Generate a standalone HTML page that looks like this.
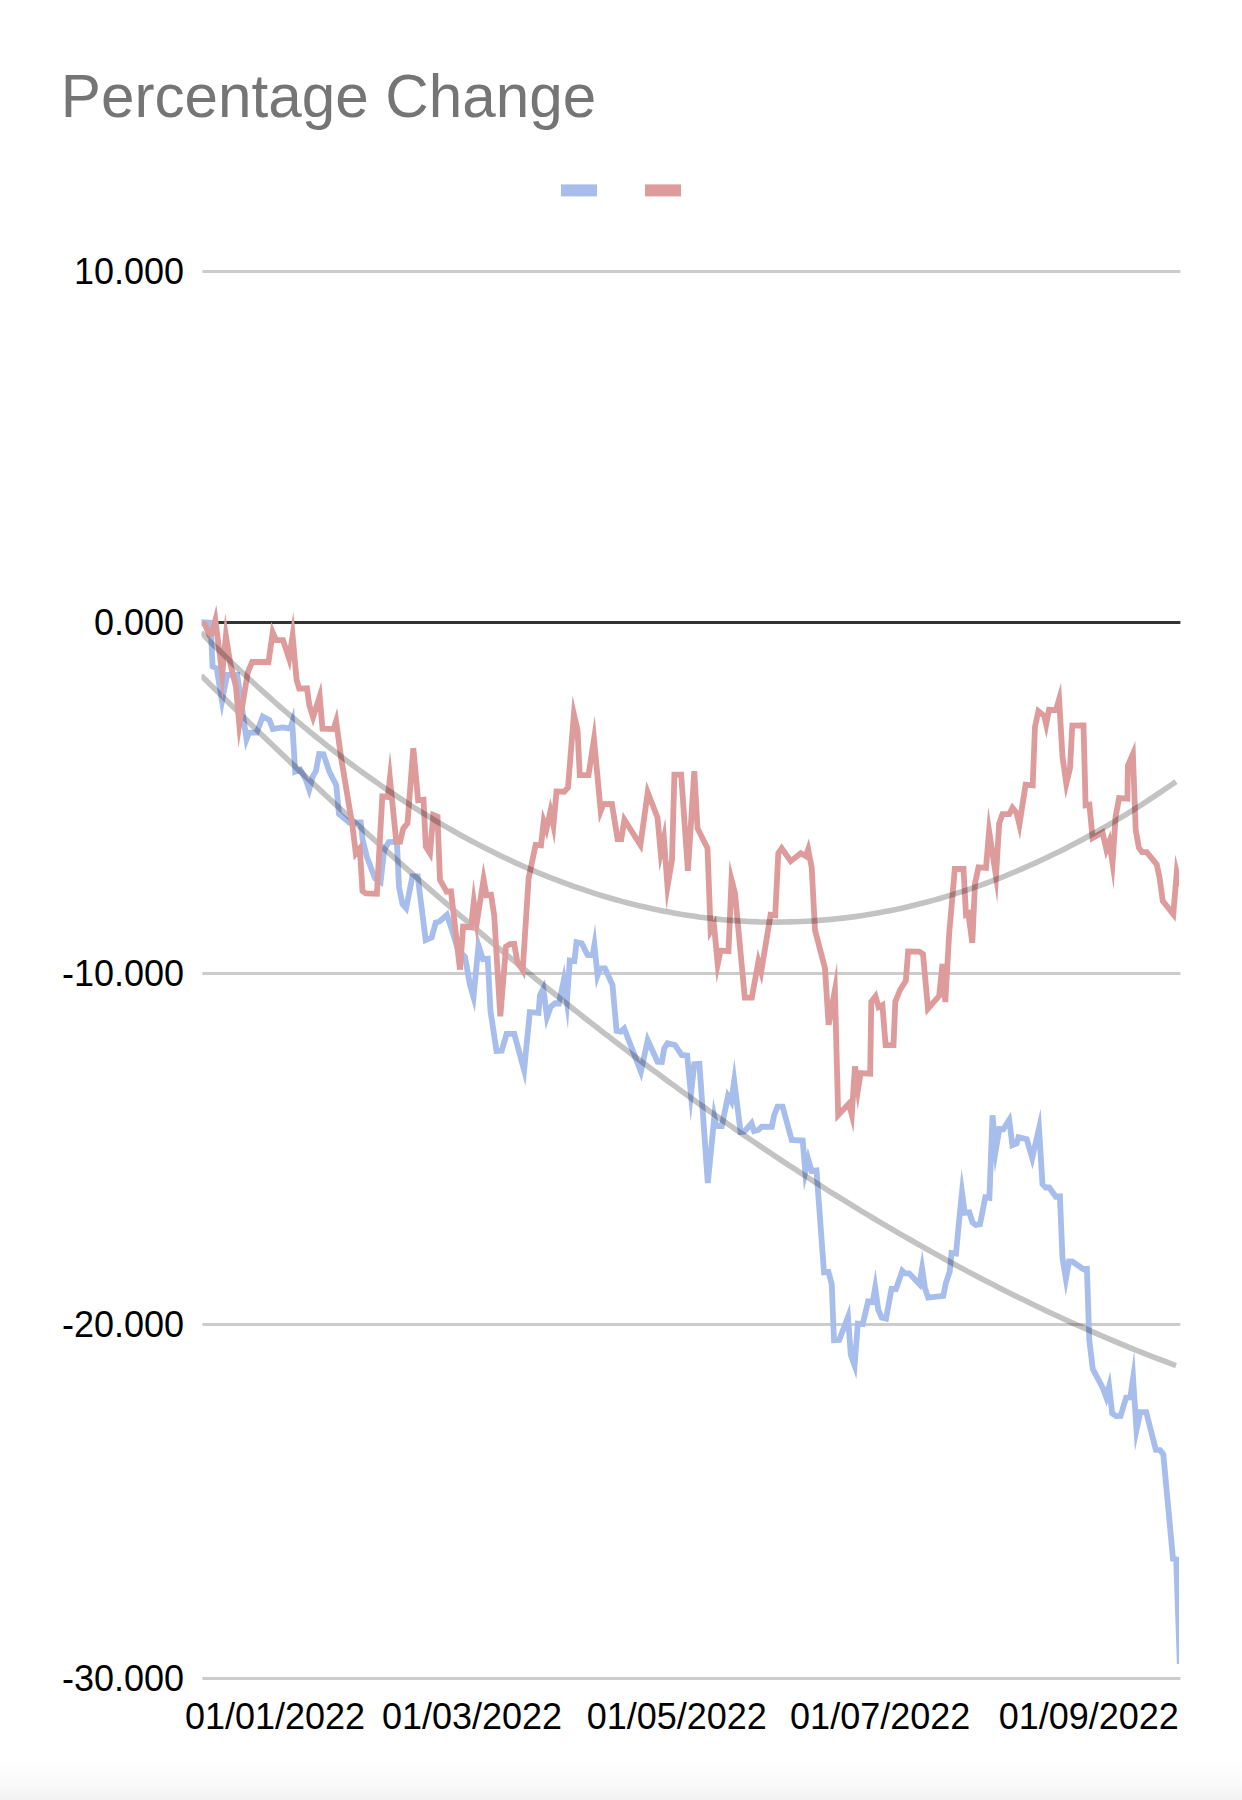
<!DOCTYPE html>
<html lang="en"><head><meta charset="utf-8"><title>Percentage Change</title>
<style>
html,body{margin:0;padding:0;background:#fff;}
body{width:1242px;height:1800px;overflow:hidden;position:relative;font-family:"Liberation Sans",sans-serif;}
.fade{position:absolute;left:0;top:1758px;width:1242px;height:42px;background:linear-gradient(to bottom,#ffffff 0px,#fdfdfd 12px,#fbfbfb 22px,#f9f9f9 29px,#f6f6f6 34px,#f2f2f2 42px);}
svg{position:absolute;left:0;top:0;display:block;}
svg text{font-family:"Liberation Sans",sans-serif;}
</style></head>
<body>
<div class="fade"></div>
<svg width="1242" height="1800" viewBox="0 0 1242 1800">
<defs><clipPath id="plot"><rect x="201.5" y="268" width="977.5" height="1412"/></clipPath></defs>
<text x="60.8" y="116.8" font-size="60.2" fill="#757575">Percentage Change</text>
<rect x="561" y="184.4" width="36" height="12" fill="#a7bdec"/>
<rect x="645" y="184.4" width="36" height="12" fill="#dd9c9b"/>
<rect x="202.4" y="270" width="978" height="3" fill="#cccccc"/>
<rect x="202.4" y="972" width="978" height="3" fill="#cccccc"/>
<rect x="202.4" y="1323" width="978" height="3" fill="#cccccc"/>
<rect x="202.4" y="1677" width="978" height="3" fill="#cccccc"/>
<rect x="202.4" y="621" width="978" height="3" fill="#333333"/>

<g clip-path="url(#plot)" fill="none" stroke-linejoin="miter" stroke-miterlimit="10" stroke-linecap="butt">
<path stroke="#a7bdec" stroke-width="5.8" d="M200.0,622.0L210.5,622.7L212.6,666.5L216.7,668.5L222.0,701.1L227.1,674.9L237.2,675.0L246.5,739.3L249.0,732.7L256.7,732.7L262.7,716.5L269.4,720.0L272.8,729.1L282.7,727.5L290.3,728.5L292.2,722.5L295.2,771.7L300.3,769.7L306.0,780.0L309.2,789.5L312.7,776.7L316.0,770.8L319.1,754.0L323.5,754.2L329.3,771.7L336.2,785.0L339.0,814.0L349.3,822.7L360.7,822.5L362.7,840.0L366.8,856.7L375.0,878.3L380.6,882.0L384.2,850.0L388.8,842.0L396.9,841.7L399.0,887.0L402.5,904.2L406.1,908.2L412.4,876.5L417.7,876.5L425.7,940.1L431.7,937.5L435.8,922.5L439.2,921.7L446.9,914.8L452.5,931.7L458.0,950.0L465.0,957.0L470.0,985.0L473.5,997.0L478.5,945.6L482.9,959.1L487.7,958.7L490.5,1011.0L496.5,1051.0L501.7,1050.8L506.6,1033.9L514.3,1033.9L524.1,1070.0L529.8,1012.2L538.5,1012.8L540.0,995.0L543.3,988.6L547.0,1017.2L550.8,1006.7L555.0,1003.3L558.9,1003.5L563.8,980.1L566.9,1001.7L569.8,960.5L574.4,961.1L576.5,942.2L581.7,943.3L587.5,955.0L592.7,955.2L594.4,945.1L597.5,975.5L600.0,968.3L605.0,968.3L612.5,985.0L616.6,1030.9L620.8,1031.7L624.2,1028.5L640.9,1071.6L647.7,1040.2L657.5,1061.7L661.9,1061.9L664.2,1048.3L667.5,1043.3L675.0,1045.0L681.7,1055.0L687.2,1055.7L690.9,1094.1L694.3,1064.3L699.4,1063.9L707.8,1183.0M707.8,1183.0L714.3,1117.0L716.2,1126.0L721.8,1126.0L728.0,1096.1L731.3,1101.5L734.2,1080.8L740.6,1132.0L744.2,1131.7L751.5,1123.3L754.0,1131.1L758.3,1130.0L761.7,1126.7L771.8,1126.9L774.2,1115.0L777.5,1106.7L782.6,1106.6L791.7,1140.0L802.7,1140.6L805.3,1172.0L808.2,1159.3L811.6,1171.0L816.5,1170.5L824.0,1272.3L828.4,1271.8L831.7,1284.0L834.0,1340.3L839.2,1340.0L848.0,1317.0L850.8,1355.0L854.6,1365.6L857.8,1323.7L862.7,1324.2L868.1,1301.5L872.7,1302.0L875.2,1287.6L878.3,1310.0L881.7,1317.5L886.0,1318.6L891.5,1288.8L895.9,1289.1L902.3,1270.9L905.0,1273.3L909.2,1273.3L919.5,1284.3L922.1,1268.5L925.0,1288.3L928.2,1297.7L943.3,1295.8L945.8,1283.3L949.7,1271.7L951.5,1253.0L956.0,1253.6L960.0,1211.7L962.0,1192.5L964.8,1212.8L969.3,1212.3L972.5,1222.5L975.8,1225.0L980.0,1224.2L985.3,1197.2L989.4,1197.8L992.5,1115.3M992.5,1115.3L995.7,1150.6L999.3,1129.0L1003.3,1129.2L1009.2,1119.9L1012.4,1145.1L1016.7,1143.3L1018.5,1137.2L1026.7,1139.2L1032.2,1158.0L1039.0,1128.5L1042.5,1184.2L1045.8,1187.5L1049.2,1187.5L1055.8,1196.7L1059.9,1196.4L1062.5,1258.3L1065.9,1278.9L1069.0,1261.5L1072.5,1261.7L1083.3,1269.2L1086.9,1268.9L1089.3,1340.0L1092.8,1369.0L1102.8,1388.0L1106.2,1397.2L1109.1,1386.5L1112.2,1413.3L1116.1,1416.1L1120.5,1416.0L1126.1,1397.8L1130.3,1397.4L1133.1,1378.3L1136.5,1430.0L1140.3,1412.1L1146.2,1412.1L1155.8,1449.8L1160.0,1450.0L1163.3,1454.4L1173.0,1558.8L1176.2,1559.4L1179.8,1664.0"/>
<polyline stroke="#000" stroke-opacity="0.235" stroke-width="5.6" points="201.0,675.4 207.0,681.3 213.0,687.2 219.0,693.1 225.0,699.0 231.0,704.9 237.0,710.8 243.0,716.6 249.0,722.4 255.0,728.2 261.0,734.0 267.0,739.8 273.0,745.6 279.0,751.3 285.0,757.0 291.0,762.7 297.0,768.4 303.0,774.0 309.0,779.7 315.0,785.3 321.0,790.9 327.0,796.5 333.0,802.1 339.0,807.6 345.0,813.1 351.0,818.7 357.0,824.2 363.0,829.6 369.0,835.1 375.0,840.5 381.0,845.9 387.0,851.3 393.0,856.7 399.0,862.1 405.0,867.4 411.0,872.7 417.0,878.0 423.0,883.3 429.0,888.6 435.0,893.8 441.0,899.0 447.0,904.2 453.0,909.4 459.0,914.6 465.0,919.7 471.0,924.8 477.0,929.9 483.0,935.0 489.0,940.1 495.0,945.1 501.0,950.1 507.0,955.1 513.0,960.1 519.0,965.1 525.0,970.0 531.0,974.9 537.0,979.8 543.0,984.7 549.0,989.5 555.0,994.3 561.0,999.2 567.0,1003.9 573.0,1008.7 579.0,1013.4 585.0,1018.2 591.0,1022.9 597.0,1027.5 603.0,1032.2 609.0,1036.8 615.0,1041.5 621.0,1046.0 627.0,1050.6 633.0,1055.2 639.0,1059.7 645.0,1064.2 651.0,1068.7 657.0,1073.1 663.0,1077.6 669.0,1082.0 675.0,1086.3 681.0,1090.7 687.0,1095.1 693.0,1099.4 699.0,1103.7 705.0,1107.9 711.0,1112.2 717.0,1116.4 723.0,1120.6 729.0,1124.8 735.0,1129.0 741.0,1133.1 747.0,1137.2 753.0,1141.3 759.0,1145.4 765.0,1149.4 771.0,1153.4 777.0,1157.4 783.0,1161.4 789.0,1165.3 795.0,1169.2 801.0,1173.1 807.0,1177.0 813.0,1180.9 819.0,1184.7 825.0,1188.5 831.0,1192.3 837.0,1196.0 843.0,1199.7 849.0,1203.4 855.0,1207.1 861.0,1210.8 867.0,1214.4 873.0,1218.0 879.0,1221.6 885.0,1225.1 891.0,1228.6 897.0,1232.1 903.0,1235.6 909.0,1239.0 915.0,1242.5 921.0,1245.9 927.0,1249.2 933.0,1252.6 939.0,1255.9 945.0,1259.2 951.0,1262.5 957.0,1265.7 963.0,1268.9 969.0,1272.1 975.0,1275.3 981.0,1278.4 987.0,1281.5 993.0,1284.6 999.0,1287.7 1005.0,1290.7 1011.0,1293.7 1017.0,1296.7 1023.0,1299.6 1029.0,1302.5 1035.0,1305.4 1041.0,1308.3 1047.0,1311.2 1053.0,1314.0 1059.0,1316.8 1065.0,1319.5 1071.0,1322.3 1077.0,1325.0 1083.0,1327.6 1089.0,1330.3 1095.0,1332.9 1101.0,1335.5 1107.0,1338.1 1113.0,1340.6 1119.0,1343.1 1125.0,1345.6 1131.0,1348.1 1137.0,1350.5 1143.0,1352.9 1149.0,1355.3 1155.0,1357.6 1161.0,1359.9 1167.0,1362.2 1173.0,1364.5 1176.0,1365.6"/>
<path stroke="#dd9c9b" stroke-width="5.8" d="M202.0,623.5L204.7,624.2L209.1,634.3L212.0,633.5L215.4,620.2L222.2,674.1L225.9,635.9L230.2,663.0L236.0,687.0L239.3,724.6L247.8,672.0L252.2,662.0L267.5,662.0L268.5,662.1L272.7,632.5L276.0,640.0L283.0,640.1L289.1,658.6L292.6,635.7L296.6,680.0L299.2,688.6L307.0,688.3L309.3,705.0L313.1,717.1L319.7,696.4L322.5,728.7L333.6,729.1L336.1,721.1L341.0,757.0L352.6,827.0L355.8,853.5L359.8,848.5L362.5,891.0L365.8,893.5L376.9,893.8L382.3,796.4L387.8,797.0L389.9,778.3L396.3,842.0L400.1,841.8L403.3,828.3L407.5,823.3L413.3,748.1M413.3,748.1L418.1,800.3L423.5,799.7L425.8,846.7L430.0,853.4L433.3,814.9L437.5,816.7L440.0,880.0L446.7,891.7L451.0,891.4L460.0,969.7M460.0,969.7L463.1,926.7L471.0,927.3L473.8,901.8L476.8,922.7L483.6,879.4L486.5,895.3L491.0,894.7L494.2,915.0L500.3,1016.3M500.3,1016.3L506.0,946.7L510.0,944.0L514.2,943.8L517.3,961.7L522.7,970.3L528.6,878.3L535.6,844.8L541.0,845.3L543.7,821.5L546.4,829.3L550.4,811.3L553.4,825.4L556.5,791.4L564.2,791.7L568.0,787.5L573.9,714.4L577.5,730.0L579.8,775.2L588.5,775.2L594.0,739.2L600.7,810.9L603.3,804.2L611.9,804.0L617.6,839.0L621.3,839.0L624.4,819.7L640.4,845.1L647.7,792.5L657.5,817.5L660.7,852.8L663.9,838.1L667.5,886.2L672.0,860.0L674.4,774.6L681.2,774.7L687.9,870.9M687.9,870.9L694.3,771.1M694.3,771.1L697.5,828.3L707.5,848.3L710.6,931.0L714.0,925.0L717.7,964.2L720.6,950.6L728.5,951.1L731.5,879.7L735.0,893.3L744.8,997.7L751.8,997.7L758.4,961.7L761.2,971.7L770.6,914.7L775.2,915.3L778.3,853.3L781.7,848.4L790.7,861.2L800.8,853.3L805.9,856.3L808.2,849.5L811.7,867.5L815.0,930.0L825.0,968.3L828.6,1025.0M828.6,1025.0L834.9,990.2L838.2,1115.0L848.9,1103.5L851.8,1114.6L855.0,1066.3M855.0,1066.3L858.0,1089.6L860.6,1073.1L870.2,1073.6L871.3,1001.7L875.5,996.3L878.6,1007.0L882.4,1005.1L885.6,1045.2L893.5,1045.2L895.3,1001.7L900.0,990.0L905.8,980.8L908.1,951.4L919.2,951.7L923.0,954.2L928.0,1008.7L939.2,995.8L942.5,963.7M942.5,963.7L945.3,1002.0M945.3,1002.0L949.2,933.3L954.8,869.0L963.5,869.0L966.0,914.6L968.3,913.4L972.3,942.8M972.3,942.8L975.0,883.3L978.5,867.3L986.0,867.8L989.1,831.3L996.0,876.0L999.2,823.3L1002.5,814.2L1009.2,814.2L1012.5,807.8L1016.7,813.3L1019.4,824.5L1025.6,784.7L1032.7,785.3L1035.0,726.7L1038.4,711.2L1044.2,715.8L1046.2,724.4L1049.0,709.8L1055.9,710.1L1059.1,699.4L1062.5,756.7L1066.3,783.6L1070.0,768.3L1072.3,725.6L1083.5,725.5L1085.6,805.3L1089.4,804.7L1092.6,838.0L1102.5,832.4L1106.4,849.5L1109.3,841.8L1112.5,863.0L1115.6,816.7L1119.1,798.1L1127.4,798.6L1127.9,765.6L1132.9,754.0L1135.7,830.0L1138.9,847.8L1142.2,852.2L1146.7,852.2L1156.7,864.4L1159.4,876.7L1162.8,901.1L1173.3,914.2L1176.7,872.9L1179.8,886.0"/>
<polyline stroke="#000" stroke-opacity="0.235" stroke-width="5.6" points="201.0,632.4 207.0,638.4 213.0,644.4 219.0,650.3 225.0,656.1 231.0,661.9 237.0,667.6 243.0,673.2 249.0,678.8 255.0,684.3 261.0,689.8 267.0,695.2 273.0,700.5 279.0,705.8 285.0,711.0 291.0,716.1 297.0,721.2 303.0,726.2 309.0,731.1 315.0,736.0 321.0,740.8 327.0,745.6 333.0,750.3 339.0,754.9 345.0,759.5 351.0,764.0 357.0,768.4 363.0,772.8 369.0,777.1 375.0,781.3 381.0,785.5 387.0,789.7 393.0,793.7 399.0,797.7 405.0,801.6 411.0,805.5 417.0,809.3 423.0,813.1 429.0,816.7 435.0,820.4 441.0,823.9 447.0,827.4 453.0,830.8 459.0,834.2 465.0,837.5 471.0,840.7 477.0,843.9 483.0,847.0 489.0,850.1 495.0,853.1 501.0,856.0 507.0,858.8 513.0,861.6 519.0,864.4 525.0,867.0 531.0,869.6 537.0,872.2 543.0,874.7 549.0,877.1 555.0,879.4 561.0,881.7 567.0,883.9 573.0,886.1 579.0,888.2 585.0,890.2 591.0,892.2 597.0,894.1 603.0,896.0 609.0,897.8 615.0,899.5 621.0,901.1 627.0,902.7 633.0,904.3 639.0,905.7 645.0,907.1 651.0,908.5 657.0,909.8 663.0,911.0 669.0,912.1 675.0,913.2 681.0,914.3 687.0,915.2 693.0,916.1 699.0,917.0 705.0,917.7 711.0,918.4 717.0,919.1 723.0,919.7 729.0,920.2 735.0,920.6 741.0,921.0 747.0,921.4 753.0,921.6 759.0,921.9 765.0,922.0 771.0,922.1 777.0,922.1 783.0,922.0 789.0,921.9 795.0,921.8 801.0,921.5 807.0,921.2 813.0,920.9 819.0,920.4 825.0,919.9 831.0,919.4 837.0,918.8 843.0,918.1 849.0,917.4 855.0,916.6 861.0,915.7 867.0,914.8 873.0,913.8 879.0,912.7 885.0,911.6 891.0,910.4 897.0,909.2 903.0,907.9 909.0,906.5 915.0,905.0 921.0,903.5 927.0,902.0 933.0,900.4 939.0,898.7 945.0,896.9 951.0,895.1 957.0,893.2 963.0,891.3 969.0,889.3 975.0,887.2 981.0,885.1 987.0,882.9 993.0,880.7 999.0,878.3 1005.0,876.0 1011.0,873.5 1017.0,871.0 1023.0,868.4 1029.0,865.8 1035.0,863.1 1041.0,860.3 1047.0,857.5 1053.0,854.6 1059.0,851.7 1065.0,848.7 1071.0,845.6 1077.0,842.5 1083.0,839.3 1089.0,836.0 1095.0,832.7 1101.0,829.3 1107.0,825.8 1113.0,822.3 1119.0,818.7 1125.0,815.1 1131.0,811.4 1137.0,807.6 1143.0,803.8 1149.0,799.9 1155.0,795.9 1161.0,791.9 1167.0,787.8 1173.0,783.7 1176.0,781.6"/>
</g>
<g font-size="36" fill="#000">
<text x="184" y="283.9" text-anchor="end">10.000</text>
<text x="184" y="634.9" text-anchor="end">0.000</text>
<text x="184" y="985.9" text-anchor="end">-10.000</text>
<text x="184" y="1336.9" text-anchor="end">-20.000</text>
<text x="184" y="1690.9" text-anchor="end">-30.000</text>
<text x="275" y="1729" text-anchor="middle">01/01/2022</text>
<text x="472" y="1729" text-anchor="middle">01/03/2022</text>
<text x="676.8" y="1729" text-anchor="middle">01/05/2022</text>
<text x="880.2" y="1729" text-anchor="middle">01/07/2022</text>
<text x="1088.8" y="1729" text-anchor="middle">01/09/2022</text>
</g>
</svg>
</body></html>
